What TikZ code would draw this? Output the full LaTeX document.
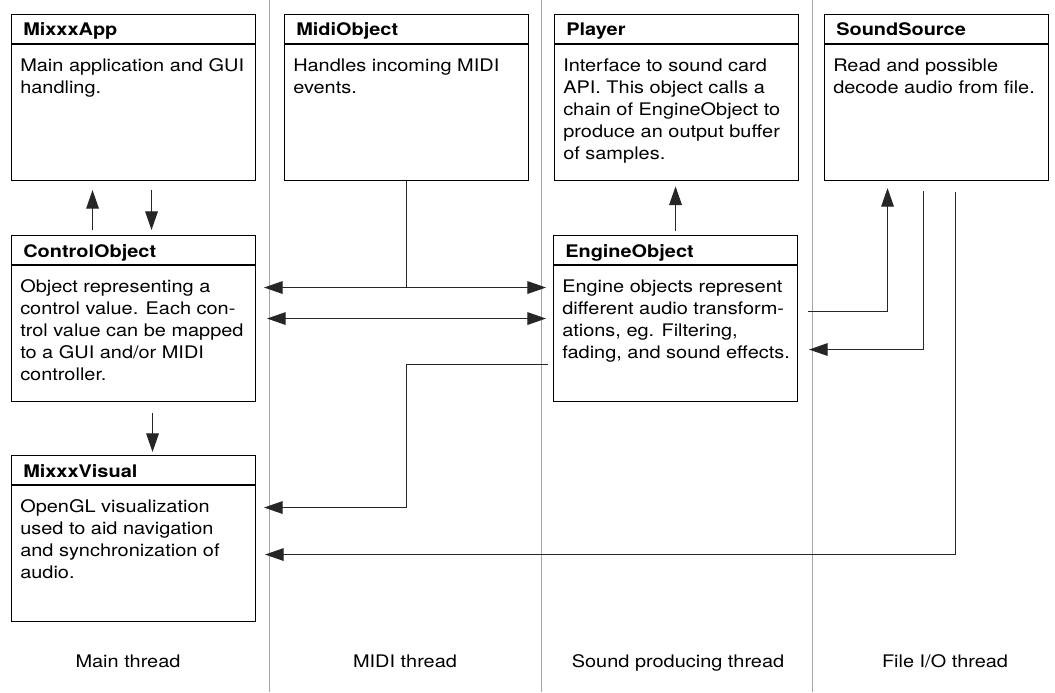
\documentclass[tikz,border=0pt]{standalone}
\usepackage{fontspec}
\setmainfont[FakeStretch=1.15]{TeX Gyre Heros}
\usetikzlibrary{arrows.meta,positioning}

\newcommand\classfont{\fontsize{13pt}{16.5pt}\selectfont}

\tikzset{
    classbox/.style={draw, line width=0.8pt, anchor=north west, inner sep=0pt,
        minimum width=183pt, minimum height=124.5pt},
    classname/.style={anchor=base west, inner sep=0pt, font=\classfont\bfseries},
    classtext/.style={anchor=north west, inner sep=0pt, align=left, font=\classfont},
    threadlabel/.style={anchor=base, inner sep=0pt, font=\classfont},
    threadline/.style={draw=black!35, line width=0.75pt},
    link/.style={line width=0.9pt, black!85},
}

\begin{document}
\begin{tikzpicture}[x=0.75pt, y=-0.75pt, >={Triangle[length=14pt,width=9.5pt]}]

    \useasboundingbox (0,0) rectangle (1055,692);

    % thread columns
    \draw[threadline] (269,0) -- (269,692);
    \draw[threadline] (541,0) -- (541,692);
    \draw[threadline] (812,0) -- (812,692);

    \node[threadlabel] (mainlbl)  at (128,667) {Main thread};
    \node[threadlabel] (midilbl)  at (405,667) {MIDI thread};
    \node[threadlabel] (soundlbl) at (678,667) {Sound producing thread};
    \node[threadlabel] (filelbl)  at (945,667) {File I/O thread};

    % objects
    \node[classbox] (app)    at (11,14)  {};
    \node[classbox] (midi)   at (284,14) {};
    \node[classbox] (player) at (554,14) {};
    \node[classbox, minimum width=168pt] (sound) at (824,14) {};
    \node[classbox] (ctrl)   at (11,235) {};
    \node[classbox] (engine) at (553,235) {};
    \node[classbox] (visual) at (11,455) {};

    \foreach \b in {app,midi,player,sound,ctrl,engine,visual}
        \draw[line width=0.8pt] ([yshift=-22.5pt]\b.north west) -- ([yshift=-22.5pt]\b.north east);

    \node[classname] (appname)    at ([shift={(12,22)}]app.north west)    {MixxxApp};
    \node[classname] (midiname)   at ([shift={(12,22)}]midi.north west)   {MidiObject};
    \node[classname] (playername) at ([shift={(12,22)}]player.north west) {Player};
    \node[classname] (soundname)  at ([shift={(12,22)}]sound.north west)  {SoundSource};
    \node[classname] (ctrlname)   at ([shift={(12,22)}]ctrl.north west)   {ControlObject};
    \node[classname] (enginename) at ([shift={(12,22)}]engine.north west) {EngineObject};
    \node[classname] (visualname) at ([shift={(12,22)}]visual.north west) {MixxxVisual};

    \node[classtext] (apptext) at ([shift={(9,44.5)}]app.north west)
        {Main application and GUI\\handling.};
    \node[classtext] (miditext) at ([shift={(9,44.5)}]midi.north west)
        {Handles incoming MIDI\\events.};
    \node[classtext] (playertext) at ([shift={(9,44.5)}]player.north west)
        {Interface to sound card\\API. This object calls a\\chain of EngineObject to\\produce an output buffer\\of samples.};
    \node[classtext] (soundtext) at ([shift={(9,44.5)}]sound.north west)
        {Read and possible\\decode audio from file.};
    \node[classtext] (ctrltext) at ([shift={(9,44.5)}]ctrl.north west)
        {Object representing a\\control value. Each con-\\trol value can be mapped\\to a GUI and/or MIDI\\controller.};
    \node[classtext] (enginetext) at ([shift={(9,44.5)}]engine.north west)
        {Engine objects represent\\different audio transform-\\ations, eg. Filtering,\\fading, and sound effects.};
    \node[classtext] (visualtext) at ([shift={(9,44.5)}]visual.north west)
        {OpenGL visualization\\used to aid navigation\\and synchronization of\\audio.};

    % connections
    \draw[link,->] ([shift={(-41,-5)}]ctrl.north) -- ([shift={(-41,9)}]app.south);
    \draw[link,->] ([shift={(18,9)}]app.south) -- ([shift={(18,-5)}]ctrl.north);
    \draw[link,->] ([shift={(19,11)}]ctrl.south) -- ([shift={(19,-3)}]visual.north);
    \draw[link,->] ([yshift=3pt]engine.north) -- ([yshift=-4pt]engine.north |- player.south);

    \coordinate (midiL) at ([shift={(8,-31)}]ctrl.east);
    \coordinate (midiR) at ([shift={(-7,-31)}]engine.west);
    \draw[link] (midi.south) -- (midi.south |- midiL);
    \draw[link,<->] (midiL) -- (midiR);
    \draw[link,<->] ([xshift=8.25pt]ctrl.east) -- ([xshift=-5.25pt]engine.west);

    \draw[link,->] ([shift={(10,-7)}]engine.east) -| ([shift={(-49,7)}]sound.south);
    \draw[link,->] ([shift={(-13,10)}]sound.south) |- ([shift={(11,31)}]engine.east);

    \coordinate (vistip) at ([shift={(8,-31)}]visual.east);
    \draw[link,->] ([shift={(-5,46)}]engine.west) -| (midi.south |- vistip) -- (vistip);
    \draw[link,->] ([shift={(19,11)}]sound.south) |- ([shift={(9,16)}]visual.east);

\end{tikzpicture}
\end{document}
